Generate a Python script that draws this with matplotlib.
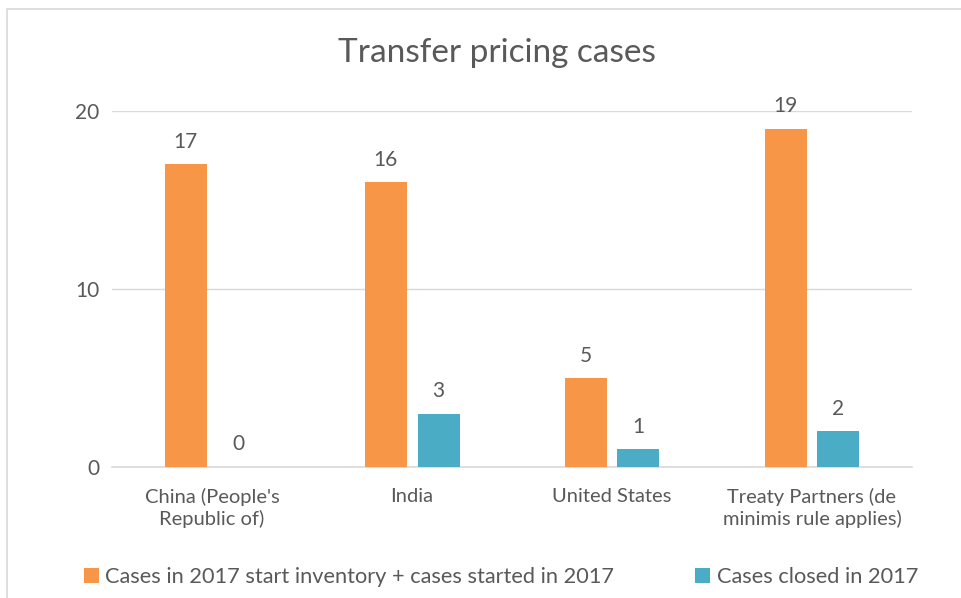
import numpy as np
import matplotlib
matplotlib.use('Agg')
import matplotlib.pyplot as plt
from matplotlib.patches import Rectangle

# data
categories = ["China (People's\nRepublic of)", "India", "United States",
              "Treaty Partners (de\nminimis rule applies)"]
started = [17, 16, 5, 19]
closed = [0, 3, 1, 2]
series_names = ["Cases in 2017 start inventory + cases started in 2017",
                "Cases closed in 2017"]

orange = '#F79646'
teal = '#4BACC6'
txt = '#595959'

plt.rcParams['font.family'] = ['Lato', 'DejaVu Sans']

fig = plt.figure(figsize=(9.62, 5.98), dpi=100)
ax = fig.add_axes([112/962, 1-467/598, 800/962, (467-111)/598])

x = np.arange(len(categories))
w = 0.21
off = 0.1325
b1 = ax.bar(x - off, started, w, color=orange, label=series_names[0], zorder=3)
b2 = ax.bar(x + off, closed, w, color=teal, label=series_names[1], zorder=3)

for bars in (b1, b2):
    for r in bars:
        ax.annotate(str(int(r.get_height())), (r.get_x() + r.get_width()/2, r.get_height()),
                    xytext=(0, 9), textcoords='offset points', ha='center', va='bottom',
                    fontsize=15, color=txt)

ax.set_xlim(-0.5, 3.5)
ax.set_ylim(0, 20)
ax.set_yticks([0, 10, 20])
ax.set_xticks(x)
ax.set_xticklabels(categories, fontsize=14.5, color=txt, linespacing=1.3)
ax.tick_params(axis='y', labelsize=15, labelcolor=txt, length=0, pad=9)
ax.tick_params(axis='x', length=0, pad=15)
ax.grid(axis='y', color='#D9D9D9', linewidth=1, zorder=0)
for s in ['top', 'right', 'left']:
    ax.spines[s].set_visible(False)
ax.spines['bottom'].set_color('#D9D9D9')
ax.spines['bottom'].set_linewidth(1.2)

fig.text(497/962, 1-53/598, 'Transfer pricing cases', ha='center', va='center',
         fontsize=24, color=txt)

fig.legend(handles=[b1, b2], loc='center', bbox_to_anchor=(501/962, 1-577/598),
           ncol=2, frameon=False, fontsize=15.7, labelcolor=txt,
           handlelength=0.7, handleheight=0.7, handletextpad=0.3, columnspacing=3.7)

# outer chart border (cropped at right and bottom)
fig.patches.append(Rectangle((7/962, -0.1), 1.2, 1 - 9/598 + 0.1, transform=fig.transFigure,
                             fill=False, edgecolor='#D9D9D9', linewidth=1.2))

fig.savefig('out.png', dpi=100)
